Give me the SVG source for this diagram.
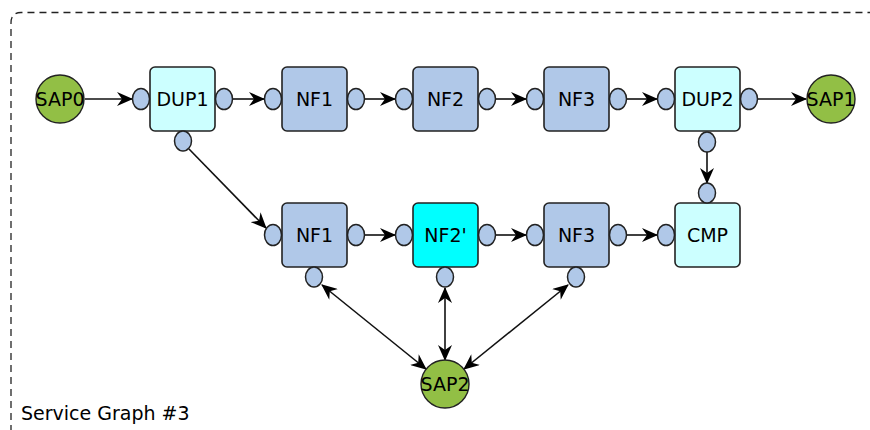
<svg xmlns="http://www.w3.org/2000/svg" width="870" height="430" viewBox="0 0 870 430">
<defs>
<marker id="ah" markerUnits="userSpaceOnUse" markerWidth="16" markerHeight="14" refX="15" refY="7" orient="auto-start-reverse" viewBox="0 0 16 14">
<path d="M0,0 L16,7 L0,14 L5,7 Z" fill="#000"/>
</marker>
<style>
.box{stroke:#222;stroke-width:1.6}
.nf{fill:#b0c8e8}
.dup{fill:#ccffff}
.cyan{fill:#00ffff}
.sap{fill:#92bf45;stroke:#222;stroke-width:1.4}
.port{fill:#b0c8e8;stroke:#222;stroke-width:1.5}
.lbl{font-family:"DejaVu Sans",sans-serif;font-size:19px;fill:#000;text-anchor:middle}
.edge{stroke:#111;stroke-width:1.6;fill:none;marker-end:url(#ah)}
.bi{marker-start:url(#ah)}
</style>
</defs>
<rect width="870" height="430" fill="#fff"/>
<path d="M11,432 V23 Q11,12.5 21,12.5 H872" fill="none" stroke="#222" stroke-width="1.3" stroke-dasharray="7,5"/>
<text x="21" y="420" font-family="DejaVu Sans, sans-serif" font-size="19" fill="#000">Service Graph #3</text>

<g id="connectors">
<line class="edge" x1="85" y1="99" x2="132" y2="99"/>
<line class="edge" x1="233" y1="99" x2="264" y2="99"/>
<line class="edge" x1="364" y1="99" x2="395" y2="99"/>
<line class="edge" x1="495" y1="99" x2="526" y2="99"/>
<line class="edge" x1="626" y1="99" x2="657" y2="99"/>
<line class="edge" x1="757" y1="99" x2="806" y2="99"/>
<line class="edge" x1="189" y1="149" x2="266" y2="228"/>
<line class="edge" x1="707" y1="152" x2="707" y2="183"/>
<line class="edge" x1="364" y1="235" x2="395" y2="235"/>
<line class="edge" x1="495" y1="235" x2="526" y2="235"/>
<line class="edge" x1="626" y1="235" x2="657" y2="235"/>
<line class="edge bi" x1="322" y1="285" x2="426" y2="369"/>
<line class="edge bi" x1="445" y1="288" x2="445" y2="360"/>
<line class="edge bi" x1="568" y1="285" x2="464" y2="369"/>
</g>

<g id="SAP0"><circle class="sap" cx="60" cy="99" r="24"/><text class="lbl" x="60" y="106">SAP0</text></g>
<g id="SAP1"><circle class="sap" cx="831" cy="99" r="24"/><text class="lbl" x="831" y="106">SAP1</text></g>
<g id="SAP2"><circle class="sap" cx="445" cy="384" r="24"/><text class="lbl" x="445" y="391">SAP2</text></g>

<g id="DUP1"><rect class="box dup" x="150" y="67" width="65" height="64" rx="5"/><text class="lbl" x="182.5" y="106">DUP1</text>
<ellipse class="port" cx="141" cy="99" rx="8.5" ry="10.5"/><ellipse class="port" cx="224" cy="99" rx="8.5" ry="10.5"/><ellipse class="port" cx="183" cy="141" rx="8.5" ry="10"/></g>
<g id="NF1_top"><rect class="box nf" x="282" y="67" width="65" height="64" rx="5"/><text class="lbl" x="314.5" y="106">NF1</text>
<ellipse class="port" cx="273" cy="99" rx="8.5" ry="10.5"/><ellipse class="port" cx="356" cy="99" rx="8.5" ry="10.5"/></g>
<g id="NF2_top"><rect class="box nf" x="413" y="67" width="65" height="64" rx="5"/><text class="lbl" x="445.5" y="106">NF2</text>
<ellipse class="port" cx="404" cy="99" rx="8.5" ry="10.5"/><ellipse class="port" cx="487" cy="99" rx="8.5" ry="10.5"/></g>
<g id="NF3_top"><rect class="box nf" x="544" y="67" width="65" height="64" rx="5"/><text class="lbl" x="576.5" y="106">NF3</text>
<ellipse class="port" cx="535" cy="99" rx="8.5" ry="10.5"/><ellipse class="port" cx="618" cy="99" rx="8.5" ry="10.5"/></g>
<g id="DUP2"><rect class="box dup" x="675" y="67" width="65" height="64" rx="5"/><text class="lbl" x="707.5" y="106">DUP2</text>
<ellipse class="port" cx="666" cy="99" rx="8.5" ry="10.5"/><ellipse class="port" cx="749" cy="99" rx="8.5" ry="10.5"/><ellipse class="port" cx="707" cy="142" rx="8.5" ry="10"/></g>

<g id="NF1_bot"><rect class="box nf" x="282" y="203" width="65" height="64" rx="5"/><text class="lbl" x="314.5" y="242">NF1</text>
<ellipse class="port" cx="273" cy="235" rx="8.5" ry="10.5"/><ellipse class="port" cx="356" cy="235" rx="8.5" ry="10.5"/><ellipse class="port" cx="314" cy="277" rx="8.5" ry="10"/></g>
<g id="NF2p"><rect class="box cyan" x="413" y="203" width="65" height="64" rx="5"/><text class="lbl" x="445.5" y="242">NF2'</text>
<ellipse class="port" cx="404" cy="235" rx="8.5" ry="10.5"/><ellipse class="port" cx="487" cy="235" rx="8.5" ry="10.5"/><ellipse class="port" cx="445" cy="277" rx="8.5" ry="10"/></g>
<g id="NF3_bot"><rect class="box nf" x="544" y="203" width="65" height="64" rx="5"/><text class="lbl" x="576.5" y="242">NF3</text>
<ellipse class="port" cx="535" cy="235" rx="8.5" ry="10.5"/><ellipse class="port" cx="618" cy="235" rx="8.5" ry="10.5"/><ellipse class="port" cx="576" cy="277" rx="8.5" ry="10"/></g>
<g id="CMP"><rect class="box dup" x="675" y="203" width="65" height="64" rx="5"/><text class="lbl" x="707.5" y="242">CMP</text>
<ellipse class="port" cx="666" cy="235" rx="8.5" ry="10.5"/><ellipse class="port" cx="707" cy="193" rx="8.5" ry="10"/></g>
</svg>
